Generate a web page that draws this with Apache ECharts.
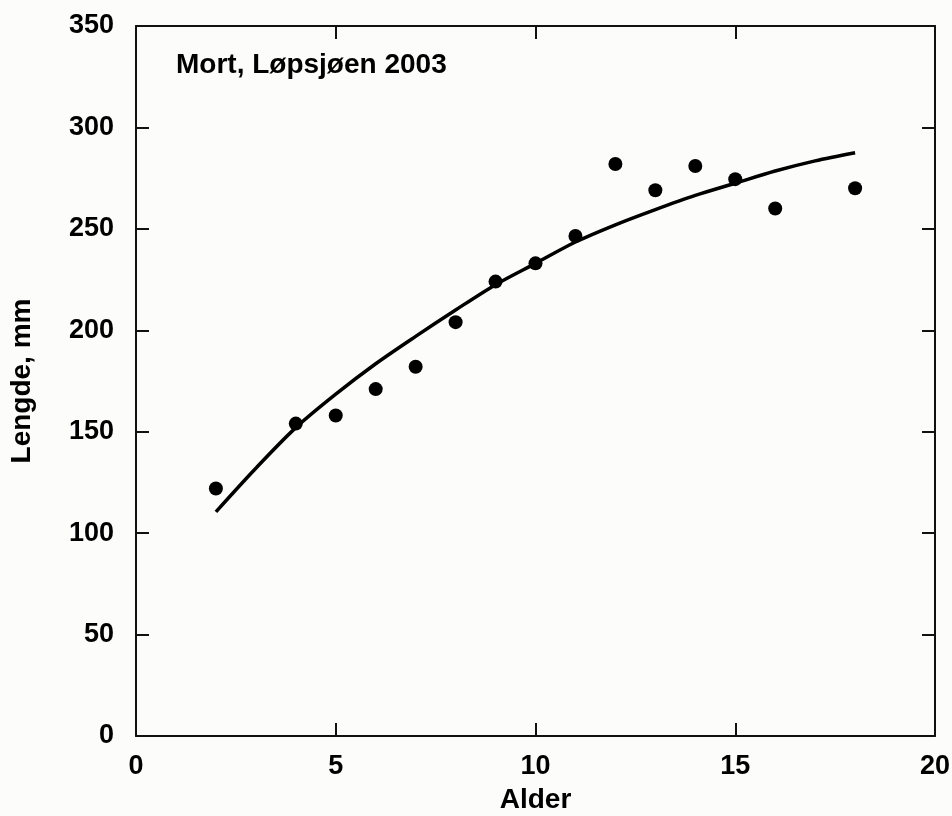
<!DOCTYPE html>
<html>
<head>
<meta charset="utf-8">
<script src="https://cdn.jsdelivr.net/npm/echarts@6/dist/echarts.min.js"></script>
<style>
html,body{margin:0;padding:0;background:#fcfcfa;}
#c{width:952px;height:816px;}
</style>
</head>
<body>
<div id="c"></div>
<script>
// Observed mean lengths (mm) by age
const ages = [2, 4, 5, 6, 7, 8, 9, 10, 11, 12, 13, 14, 15, 16, 18];
const lengths = [122, 154, 158, 171, 182, 204, 224, 233, 246.5, 282, 269, 281, 274.5, 260, 270];
// Fitted growth curve
const curveAges = [2, 3, 4, 5, 6, 7, 8, 9, 10, 11, 12, 13, 14, 15, 16, 17, 18];
const curveLengths = [110.5, 132, 152, 168.5, 183.5, 197, 210, 222.5, 233, 243.5, 252, 259.5, 266.5, 272.5, 278.5, 283.5, 287.5];
const xTicks = [0, 5, 10, 15, 20];
const yTicks = [0, 50, 100, 150, 200, 250, 300, 350];
const titleText = 'Mort, Løpsjøen 2003';
const xName = 'Alder';
const yName = 'Lengde, mm';

const font = 'Liberation Sans, Arial, sans-serif';
const chart = echarts.init(document.getElementById('c'));
const axisLine = {show: true, onZero: false, lineStyle: {color: '#111', width: 2}};
const tickStyle = {show: true, inside: true, length: 13, lineStyle: {color: '#111', width: 2}};
const labelStyle = {color: '#000', fontFamily: font, fontWeight: 'bold', fontSize: 27};
const nameStyle = {color: '#000', fontFamily: font, fontWeight: 'bold', fontSize: 28};
chart.setOption({
  backgroundColor: '#fcfcfa',
  animation: false,
  title: {
    text: titleText, left: 171, top: 46,
    textStyle: {color: '#000', fontFamily: font, fontWeight: 'bold', fontSize: 28}
  },
  grid: {left: 136, top: 26, right: 17, bottom: 80, outerBoundsMode: 'none', containLabel: false},
  xAxis: [{
    type: 'value', min: xTicks[0], max: xTicks[xTicks.length - 1], interval: 5,
    name: xName, nameLocation: 'middle', nameGap: 50, nameTextStyle: nameStyle,
    axisLine: axisLine, axisTick: tickStyle,
    axisLabel: Object.assign({margin: 17}, labelStyle), splitLine: {show: false}
  }, {
    type: 'value', position: 'top', min: xTicks[0], max: xTicks[xTicks.length - 1], interval: 5,
    axisLine: axisLine, axisTick: tickStyle,
    axisLabel: {show: false}, splitLine: {show: false}
  }],
  yAxis: [{
    type: 'value', min: yTicks[0], max: yTicks[yTicks.length - 1], interval: 50,
    name: yName, nameLocation: 'middle', nameGap: 100, nameTextStyle: nameStyle,
    axisLine: axisLine, axisTick: tickStyle,
    axisLabel: Object.assign({margin: 22}, labelStyle), splitLine: {show: false}
  }, {
    type: 'value', position: 'right', min: yTicks[0], max: yTicks[yTicks.length - 1], interval: 50,
    axisLine: axisLine, axisTick: tickStyle,
    axisLabel: {show: false}, splitLine: {show: false}
  }],
  series: [{
    type: 'line', smooth: 0.3, showSymbol: false,
    data: curveAges.map((a, i) => [a, curveLengths[i]]),
    lineStyle: {color: '#000', width: 3.5}
  }, {
    type: 'scatter', symbol: 'circle', symbolSize: 14,
    data: ages.map((a, i) => [a, lengths[i]]),
    itemStyle: {color: '#000', opacity: 1}
  }, {
    type: 'scatter', xAxisIndex: 1, yAxisIndex: 1, data: [], silent: true
  }]
});
</script>
</body>
</html>
